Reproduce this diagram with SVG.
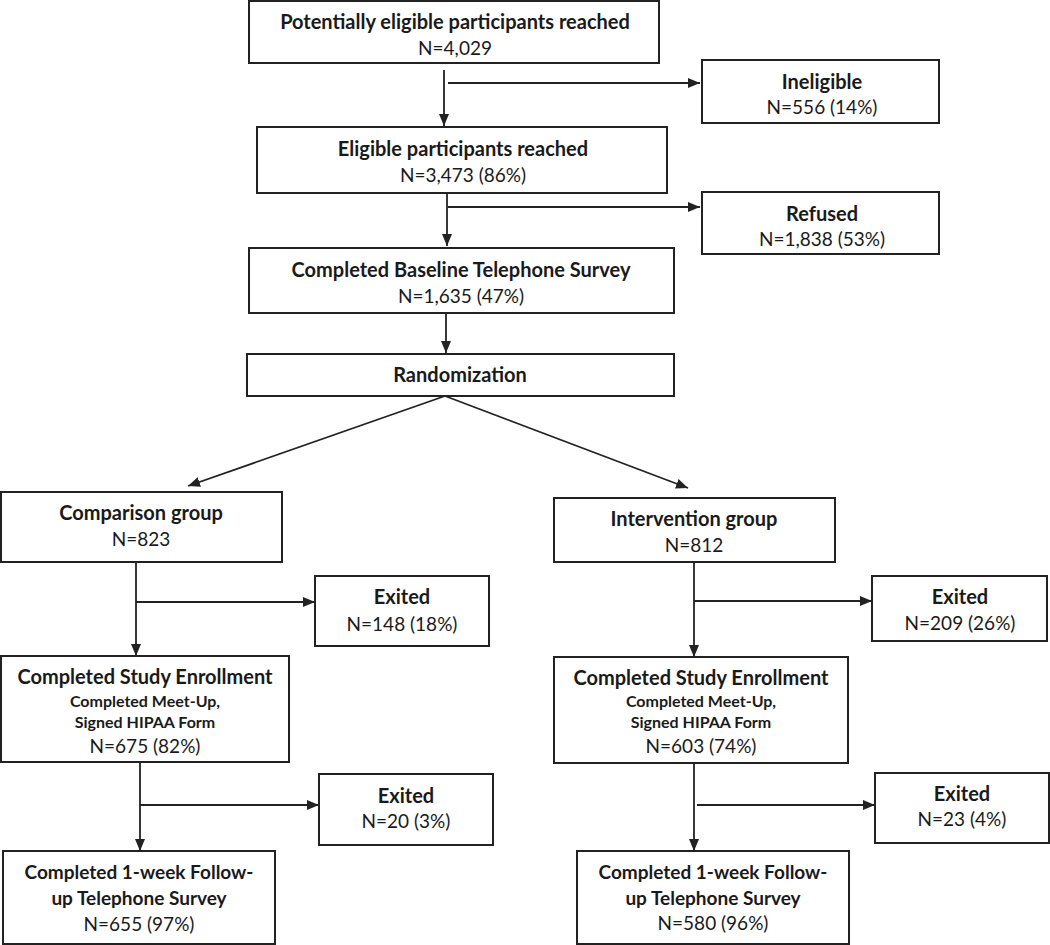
<svg xmlns="http://www.w3.org/2000/svg" width="1050" height="945" viewBox="0 0 1050 945">
<style>
.box{fill:#fff;stroke:#222;stroke-width:2}
.t{font-family:Lato,"Open Sans","Liberation Sans",sans-serif;font-weight:bold;font-size:20px;fill:#1a1a1a;text-anchor:middle}
.f{font-family:Lato,"Open Sans","Liberation Sans",sans-serif;font-weight:bold;font-size:19px;fill:#1a1a1a;text-anchor:middle}
.s{font-family:Lato,"Open Sans","Liberation Sans",sans-serif;font-weight:bold;font-size:16px;fill:#1a1a1a;text-anchor:middle}
.n{font-family:Lato,"Open Sans","Liberation Sans",sans-serif;font-size:19px;fill:#1a1a1a;text-anchor:middle}
.c{fill:none;stroke:#222;stroke-width:1.8}
</style>
<defs>
<marker id="ah" markerWidth="12" markerHeight="10" refX="12" refY="5" orient="auto" markerUnits="userSpaceOnUse">
<path d="M0,0 L12,5 L0,10 Z" fill="#222"/>
</marker>
</defs>
<rect width="1050" height="945" fill="#fff"/>
<g id="connectors">
<line class="c" x1="444" y1="70" x2="444" y2="126" marker-end="url(#ah)"/>
<line class="c" x1="448" y1="83" x2="700" y2="83" marker-end="url(#ah)"/>
<line class="c" x1="447" y1="193" x2="447" y2="246" marker-end="url(#ah)"/>
<line class="c" x1="448" y1="207" x2="700" y2="207" marker-end="url(#ah)"/>
<line class="c" x1="446" y1="313" x2="446" y2="353" marker-end="url(#ah)"/>
<line class="c" x1="445" y1="396" x2="188" y2="486" marker-end="url(#ah)"/>
<line class="c" x1="445" y1="396" x2="688" y2="488" marker-end="url(#ah)"/>
<line class="c" x1="136" y1="562" x2="136" y2="656" marker-end="url(#ah)"/>
<line class="c" x1="136" y1="602" x2="315" y2="602" marker-end="url(#ah)"/>
<line class="c" x1="140" y1="762" x2="140" y2="851" marker-end="url(#ah)"/>
<line class="c" x1="140" y1="805" x2="319" y2="805" marker-end="url(#ah)"/>
<line class="c" x1="694" y1="562" x2="694" y2="657" marker-end="url(#ah)"/>
<line class="c" x1="694" y1="601" x2="872" y2="601" marker-end="url(#ah)"/>
<line class="c" x1="694" y1="763" x2="694" y2="851" marker-end="url(#ah)"/>
<line class="c" x1="697" y1="805" x2="875" y2="805" marker-end="url(#ah)"/>
</g>
<g id="n-potential">
<rect class="box" x="249" y="1" width="410" height="62"/>
<text class="t" x="455" y="29">Potentially eligible participants reached</text>
<text class="n" x="455" y="55">N=4,029</text>
</g>
<g id="n-ineligible">
<rect class="box" x="702" y="60" width="237" height="63"/>
<text class="t" x="822" y="89">Ineligible</text>
<text class="n" x="822" y="114">N=556 (14%)</text>
</g>
<g id="n-eligible">
<rect class="box" x="257" y="127" width="410" height="66"/>
<text class="t" x="463" y="156">Eligible participants reached</text>
<text class="n" x="463" y="182">N=3,473 (86%)</text>
</g>
<g id="n-refused">
<rect class="box" x="702" y="192" width="237" height="62"/>
<text class="t" x="822" y="221">Refused</text>
<text class="n" x="822" y="246">N=1,838 (53%)</text>
</g>
<g id="n-baseline">
<rect class="box" x="249" y="248" width="425" height="65"/>
<text class="t" x="461" y="277">Completed Baseline Telephone Survey</text>
<text class="n" x="461" y="303">N=1,635 (47%)</text>
</g>
<g id="n-random">
<rect class="box" x="247" y="354" width="427" height="42"/>
<text class="t" x="460" y="382">Randomization</text>
</g>
<g id="n-comparison">
<rect class="box" x="1" y="492" width="281" height="70"/>
<text class="t" x="141" y="520">Comparison group</text>
<text class="n" x="141" y="546">N=823</text>
</g>
<g id="n-intervention">
<rect class="box" x="554" y="498" width="281" height="64"/>
<text class="t" x="694" y="526">Intervention group</text>
<text class="n" x="694" y="552">N=812</text>
</g>
<g id="n-exit-c1">
<rect class="box" x="315" y="576" width="174" height="70"/>
<text class="t" x="402" y="604">Exited</text>
<text class="n" x="402" y="631">N=148 (18%)</text>
</g>
<g id="n-exit-i1">
<rect class="box" x="872" y="576" width="175" height="65"/>
<text class="t" x="960" y="604">Exited</text>
<text class="n" x="960" y="630">N=209 (26%)</text>
</g>
<g id="n-enroll-c">
<rect class="box" x="1" y="656" width="288" height="106"/>
<text class="t" x="145" y="684">Completed Study Enrollment</text>
<text class="s" x="145" y="707">Completed Meet-Up,</text>
<text class="s" x="145" y="728">Signed HIPAA Form</text>
<text class="n" x="145" y="753">N=675 (82%)</text>
</g>
<g id="n-enroll-i">
<rect class="box" x="554" y="657" width="294" height="106"/>
<text class="t" x="701" y="685">Completed Study Enrollment</text>
<text class="s" x="701" y="707">Completed Meet-Up,</text>
<text class="s" x="701" y="728">Signed HIPAA Form</text>
<text class="n" x="701" y="753">N=603 (74%)</text>
</g>
<g id="n-exit-c2">
<rect class="box" x="319" y="774" width="174" height="71"/>
<text class="t" x="406" y="803">Exited</text>
<text class="n" x="406" y="828">N=20 (3%)</text>
</g>
<g id="n-exit-i2">
<rect class="box" x="875" y="773" width="174" height="70"/>
<text class="t" x="962" y="801">Exited</text>
<text class="n" x="962" y="826">N=23 (4%)</text>
</g>
<g id="n-follow-c">
<rect class="box" x="3" y="851" width="272" height="93"/>
<text class="f" x="139" y="879">Completed 1-week Follow-</text>
<text class="f" x="139" y="905">up Telephone Survey</text>
<text class="n" x="139" y="931">N=655 (97%)</text>
</g>
<g id="n-follow-i">
<rect class="box" x="577" y="851" width="272" height="93"/>
<text class="f" x="713" y="879">Completed 1-week Follow-</text>
<text class="f" x="713" y="905">up Telephone Survey</text>
<text class="n" x="713" y="930">N=580 (96%)</text>
</g>
</svg>
